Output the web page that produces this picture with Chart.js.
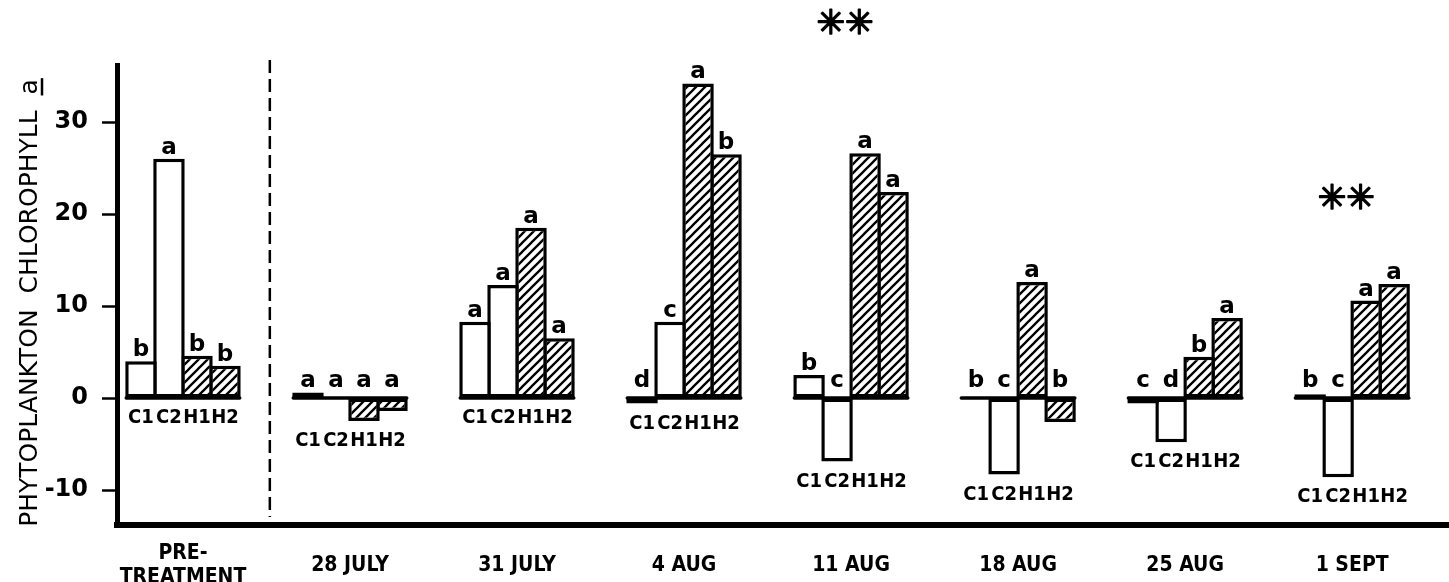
<!DOCTYPE html>
<html>
<head>
<meta charset="utf-8">
<script src="https://cdn.jsdelivr.net/npm/chart.js@4.4.1/dist/chart.umd.min.js"></script>
<style>
  html, body { margin: 0; padding: 0; background: #fff; }
  #wrap { width: 1449px; height: 582px; }
</style>
</head>
<body>
<div id="wrap"><canvas id="chart" width="1449" height="582"></canvas></div>
<script>
// Sampling dates (first entry is the pre-treatment sample)
const CATEGORIES = [['PRE-', 'TREATMENT'], '28 JULY', '31 JULY', '4 AUG', '11 AUG', '18 AUG', '25 AUG', '1 SEPT'];

// Enclosures: two controls (C1, C2) and two treated (H1, H2)
const SERIES_NAMES = ['C1', 'C2', 'H1', 'H2'];

// Phytoplankton chlorophyll a
const C1 = [4.0, 0.6, 8.3, -0.6, 2.5, 0, -0.6, 0.4];
const C2 = [26.0, 0, 12.3, 8.3, -6.9, -8.3, -4.8, -8.6];
const H1 = [4.6, -2.5, 18.5, 34.2, 26.6, 12.6, 4.5, 10.6];
const H2 = [3.5, -1.4, 6.5, 26.5, 22.4, -2.6, 8.7, 12.4];

// Multiple-comparison letters for each bar
const LETTERS_C1 = ['b', 'a', 'a', 'd', 'b', 'b', 'c', 'b'];
const LETTERS_C2 = ['a', 'a', 'a', 'c', 'c', 'c', 'd', 'c'];
const LETTERS_H1 = ['b', 'a', 'a', 'a', 'a', 'a', 'b', 'a'];
const LETTERS_H2 = ['b', 'a', 'a', 'b', 'a', 'b', 'a', 'a'];

// Dates with a significant treatment effect
const STARRED = ['11 AUG', '1 SEPT'];
const STAR_TEXT = '\u2733\u2733';

const Y_TICKS = [-10, 0, 10, 20, 30];
const Y_TITLE = 'PHYTOPLANKTON  CHLOROPHYLL  ';
const Y_TITLE_UNDERLINED = 'a';

const SERIES = [C1, C2, H1, H2];
const LETTERS = [LETTERS_C1, LETTERS_C2, LETTERS_H1, LETTERS_H2];

const FONT = "'DejaVu Sans'";
const CONDENSED = "'DejaVu Sans Condensed', 'DejaVu Sans'";

function hatchPattern() {
  const s = 9;
  const c = document.createElement('canvas');
  c.width = s; c.height = s;
  const g = c.getContext('2d');
  g.fillStyle = '#fff';
  g.fillRect(0, 0, s, s);
  g.strokeStyle = '#000';
  g.lineWidth = 2.3;
  g.beginPath();
  g.moveTo(-2, s + 2); g.lineTo(s + 2, -2);
  g.moveTo(-2, 2); g.lineTo(2, -2);
  g.moveTo(s - 2, s + 2); g.lineTo(s + 2, s - 2);
  g.stroke();
  return g.createPattern(c, 'repeat');
}

const hatch = hatchPattern();
const FILLS = ['#fff', '#fff', hatch, hatch];

const labelText = c => Array.isArray(c) ? c.join(' ') : c;

// Annotations drawn on top of the bars: baselines, letters, bar names,
// the pre-treatment separator, significance stars and the y-axis title.
const annotations = {
  id: 'annotations',
  afterDatasetsDraw(chart, args, opts) {
    const ctx = chart.ctx;
    const xs = chart.scales.x;
    const ys = chart.scales.y;
    const area = chart.chartArea;
    const y0 = ys.getPixelForValue(0);
    const metas = SERIES.map((_, k) => chart.getDatasetMeta(k));

    ctx.save();
    ctx.fillStyle = '#000';
    ctx.strokeStyle = '#000';

    CATEGORIES.forEach((cat, i) => {
      const els = metas.map(m => m.data[i]);
      const left = els[0].x - els[0].width / 2;
      const right = els[3].x + els[3].width / 2;

      // zero line under each group
      ctx.lineWidth = 3.5;
      ctx.lineCap = 'round';
      ctx.beginPath();
      ctx.moveTo(left + 1, y0);
      ctx.lineTo(right - 1, y0);
      ctx.stroke();

      // comparison letters
      ctx.font = `bold 23px ${FONT}`;
      ctx.textAlign = 'center';
      ctx.textBaseline = 'alphabetic';
      els.forEach((el, k) => {
        const top = Math.min(el.y, el.base);
        const y = Math.min(top - 5, y0 - 11);
        ctx.fillText(LETTERS[k][i], el.x, y);
      });

      // bar names below the lowest bar of the group
      const bottom = Math.max(y0, ...els.map(el => Math.max(el.y, el.base)));
      ctx.font = `bold 20px ${CONDENSED}`;
      ctx.textBaseline = 'middle';
      els.forEach((el, k) => {
        ctx.fillText(SERIES_NAMES[k], el.x, bottom + 20);
      });
    });

    // separator between pre-treatment and treatment dates
    const sx = xs.getPixelForValue(opts.separatorAt);
    ctx.lineWidth = 2.5;
    ctx.lineCap = 'butt';
    ctx.setLineDash([13, 6]);
    ctx.beginPath();
    ctx.moveTo(sx, area.top - 5);
    ctx.lineTo(sx, area.bottom - 8);
    ctx.stroke();
    ctx.setLineDash([]);

    // significance stars
    ctx.font = `34px ${FONT}`;
    ctx.textAlign = 'center';
    ctx.textBaseline = 'middle';
    ctx.lineWidth = 1.6;
    ctx.lineJoin = 'round';
    STARRED.forEach(name => {
      const i = CATEGORIES.findIndex(c => labelText(c) === name);
      const x = xs.getPixelForValue(i) - 6;
      const y = ys.getPixelForValue(opts.starLevel[name]);
      ctx.fillText(STAR_TEXT, x, y);
      ctx.strokeText(STAR_TEXT, x, y);
    });

    // y-axis title, running bottom to top, with the underlined "a"
    ctx.font = `25px ${FONT}`;
    const full = Y_TITLE + Y_TITLE_UNDERLINED;
    const w = ctx.measureText(full).width;
    const wa = ctx.measureText(Y_TITLE_UNDERLINED).width;
    const cy = (area.top + area.bottom) / 2 + 8;
    ctx.translate(opts.titleX, cy);
    ctx.rotate(-Math.PI / 2);
    ctx.textAlign = 'center';
    ctx.textBaseline = 'alphabetic';
    ctx.fillText(full, 0, 0);
    ctx.lineWidth = 2.5;
    ctx.beginPath();
    ctx.moveTo(w / 2 - wa - 1, 5);
    ctx.lineTo(w / 2 + 1, 5);
    ctx.stroke();
    ctx.restore();
  }
};

new Chart(document.getElementById('chart'), {
  type: 'bar',
  data: {
    datasets: SERIES.map((vals, k) => ({
      label: SERIES_NAMES[k],
      data: vals.map((v, i) => ({ x: i, y: v })),
      backgroundColor: FILLS[k],
      borderColor: '#000',
      borderWidth: 3.5,
      borderSkipped: false,
      categoryPercentage: 0.6705,
      barPercentage: 1.125
    }))
  },
  options: {
    responsive: false,
    animation: false,
    devicePixelRatio: 1,
    layout: { padding: { top: 65, left: 0, right: 0, bottom: 0 } },
    plugins: {
      legend: { display: false },
      tooltip: { enabled: false },
      annotations: {
        separatorAt: 0.52,
        starLevel: { '11 AUG': 40.5, '1 SEPT': 21.5 },
        titleX: 37
      }
    },
    scales: {
      x: {
        type: 'linear',
        position: 'bottom',
        min: -0.395,
        max: 7.58,
        offset: false,
        grid: { display: false, drawTicks: false, offset: false },
        border: { display: true, color: '#000', width: 6 },
        afterBuildTicks: s => { s.ticks = CATEGORIES.map((_, i) => ({ value: i })); },
        afterFit: s => { s.height = 57; },
        ticks: {
          autoSkip: false,
          maxRotation: 0,
          minRotation: 0,
          crossAlign: 'center',
          padding: 29,
          color: '#000',
          font: { family: CONDENSED, size: 21, weight: 'bold', lineHeight: 1.12 },
          callback: v => CATEGORIES[v]
        }
      },
      y: {
        min: -13.8,
        max: 36.2,
        grid: {
          drawOnChartArea: false,
          drawTicks: true,
          tickLength: 15,
          tickWidth: 2.5,
          tickColor: '#000'
        },
        border: { display: true, color: '#000', width: 5 },
        afterBuildTicks: s => { s.ticks = Y_TICKS.map(v => ({ value: v })); },
        afterFit: s => { s.width = 117; },
        ticks: {
          padding: 14,
          color: '#000',
          font: { family: FONT, size: 24, weight: 'bold' },
          callback: v => String(v)
        }
      }
    }
  },
  plugins: [annotations]
});
</script>
</body>
</html>
